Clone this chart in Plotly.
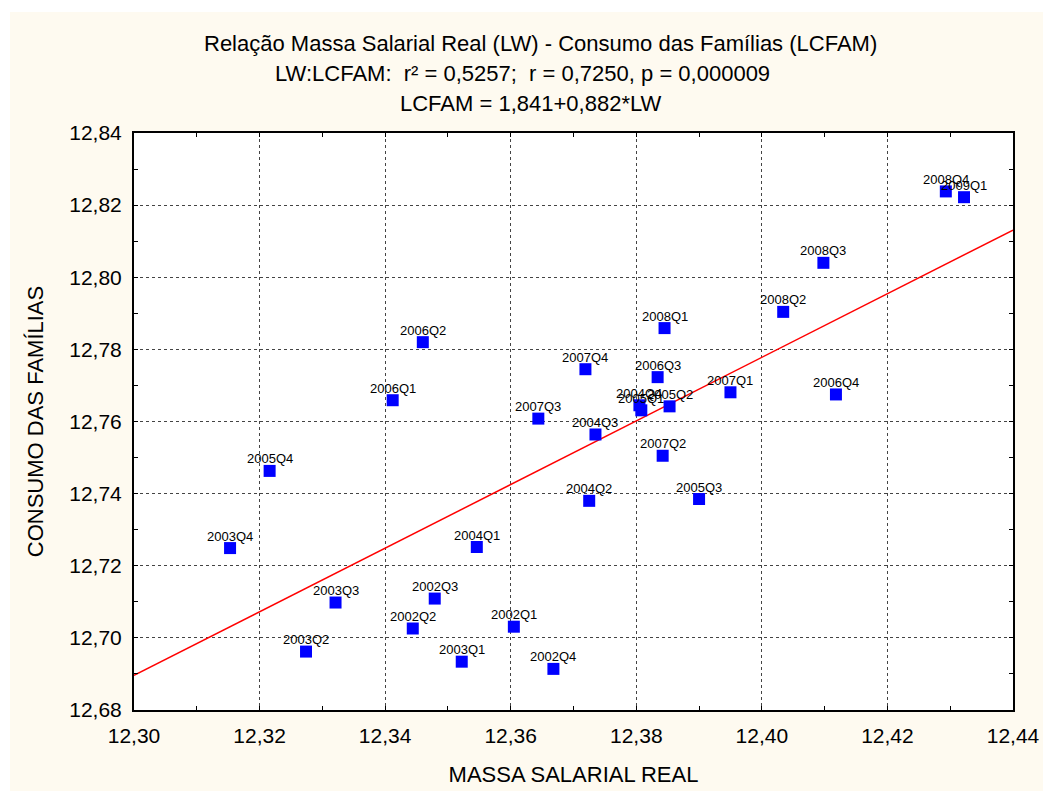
import plotly.graph_objects as go

# ---- data ----
quarters = ["2002Q1", "2002Q2", "2002Q3", "2002Q4",
            "2003Q1", "2003Q2", "2003Q3", "2003Q4",
            "2004Q1", "2004Q2", "2004Q3", "2004Q4",
            "2005Q1", "2005Q2", "2005Q3", "2005Q4",
            "2006Q1", "2006Q2", "2006Q3", "2006Q4",
            "2007Q1", "2007Q2", "2007Q3", "2007Q4",
            "2008Q1", "2008Q2", "2008Q3", "2008Q4",
            "2009Q1"]
lw = [12.3605, 12.3444, 12.3479, 12.3668,
      12.3522, 12.3274, 12.3321, 12.3153,
      12.3546, 12.3725, 12.3735, 12.3805,
      12.3808, 12.3853, 12.3900, 12.3216,
      12.3412, 12.3460, 12.3834, 12.4118,
      12.3950, 12.3842, 12.3644, 12.3719,
      12.3845, 12.4034, 12.4098, 12.4293,
      12.4322]
lcfam = [12.7031, 12.7026, 12.7109, 12.6914,
         12.6934, 12.6962, 12.7098, 12.7249,
         12.7252, 12.7380, 12.7564, 12.7645,
         12.7631, 12.7642, 12.7385, 12.7463,
         12.7659, 12.7820, 12.7723, 12.7675,
         12.7681, 12.7505, 12.7608, 12.7745,
         12.7859, 12.7904, 12.8040, 12.8238,
         12.8222]
intercept = 1.841
slope = 0.882
x_range = [12.30, 12.44]
y_range = [12.68, 12.84]
title_lines = ["Relação Massa Salarial Real (LW) - Consumo das Famílias (LCFAM)",
               "LW:LCFAM:  r² = 0,5257;  r = 0,7250, p = 0,000009",
               "LCFAM = 1,841+0,882*LW"]

# ---- layout constants ----
W, H = 1043, 791
ML, MR, MT, MB = 134, 30, 133, 81
PW, PH = W - ML - MR, H - MT - MB
FONT = "Liberation Sans, Arial, sans-serif"
CREAM = "#FEFAF0"
TICK = 21
TITLE = 22


def px_to_paper_x(px):
    return (px - ML) / PW


def py_to_paper_y(py):
    return (H - MB - py) / PH


fig = go.Figure()

line_x = x_range
line_y = [intercept + slope * v for v in line_x]
fig.add_trace(go.Scatter(x=line_x, y=line_y, mode="lines",
                         line=dict(color="#FF0000", width=1.5),
                         hoverinfo="skip", showlegend=False))

fig.add_trace(go.Scatter(x=lw, y=lcfam, mode="markers",
                         marker=dict(symbol="square", size=12, color="#0000FF",
                                     line=dict(width=0)),
                         cliponaxis=False, showlegend=False))

annotations = []
for q, xv, yv in zip(quarters, lw, lcfam):
    annotations.append(dict(text=q, x=xv, y=yv, xref="x", yref="y",
                            showarrow=False, xanchor="center", yanchor="middle",
                            yshift=12,
                            font=dict(family=FONT, size=13, color="black")))

axis_common = dict(showline=True, linecolor="black", linewidth=2, mirror="ticks",
                   ticks="inside", ticklen=4, tickcolor="black", tickwidth=1,
                   showgrid=True, gridcolor="#444444", griddash="dot", gridwidth=1,
                   zeroline=False, tickformat=".2f", automargin=False,
                   tickfont=dict(family=FONT, size=TICK, color="black"))

fig.update_xaxes(range=x_range, dtick=0.02, tick0=12.30,
                 minor=dict(dtick=0.01, ticks="inside", ticklen=4, tickcolor="black",
                            showgrid=False),
                 ticklabelstandoff=6,
                 title=dict(text="MASSA SALARIAL REAL", standoff=20,
                            font=dict(family=FONT, size=TITLE, color="black")),
                 **axis_common)
fig.update_yaxes(range=y_range, dtick=0.02, tick0=12.68,
                 minor=dict(dtick=0.01, ticks="inside", ticklen=4, tickcolor="black",
                            showgrid=False),
                 ticklabelstandoff=6,
                 title=dict(text="CONSUMO DAS FAMÍLIAS", standoff=20,
                            font=dict(family=FONT, size=TITLE, color="black")),
                 **axis_common)

for line, py, cx in zip(title_lines, [44, 74, 104], [540, 522, 531]):
    annotations.append(dict(text=line, xref="paper", yref="paper",
                            x=px_to_paper_x(cx), y=py_to_paper_y(py),
                            xanchor="center", yanchor="middle", showarrow=False,
                            font=dict(family=FONT, size=TITLE, color="black")))

shapes = [
    dict(type="rect", xref="paper", yref="paper", layer="above",
         x0=px_to_paper_x(0), x1=px_to_paper_x(10),
         y0=py_to_paper_y(H), y1=py_to_paper_y(0),
         fillcolor="white", line=dict(width=0)),
    dict(type="rect", xref="paper", yref="paper", layer="above",
         x0=px_to_paper_x(0), x1=px_to_paper_x(W),
         y0=py_to_paper_y(12), y1=py_to_paper_y(0),
         fillcolor="white", line=dict(width=0)),
]

fig.update_layout(width=W, height=H,
                  margin=dict(l=ML, r=MR, t=MT, b=MB, pad=0, autoexpand=False),
                  paper_bgcolor=CREAM, plot_bgcolor="white",
                  separators=",.",
                  font=dict(family=FONT, color="black"),
                  annotations=annotations, shapes=shapes,
                  showlegend=False)

fig.write_html("out.html")
